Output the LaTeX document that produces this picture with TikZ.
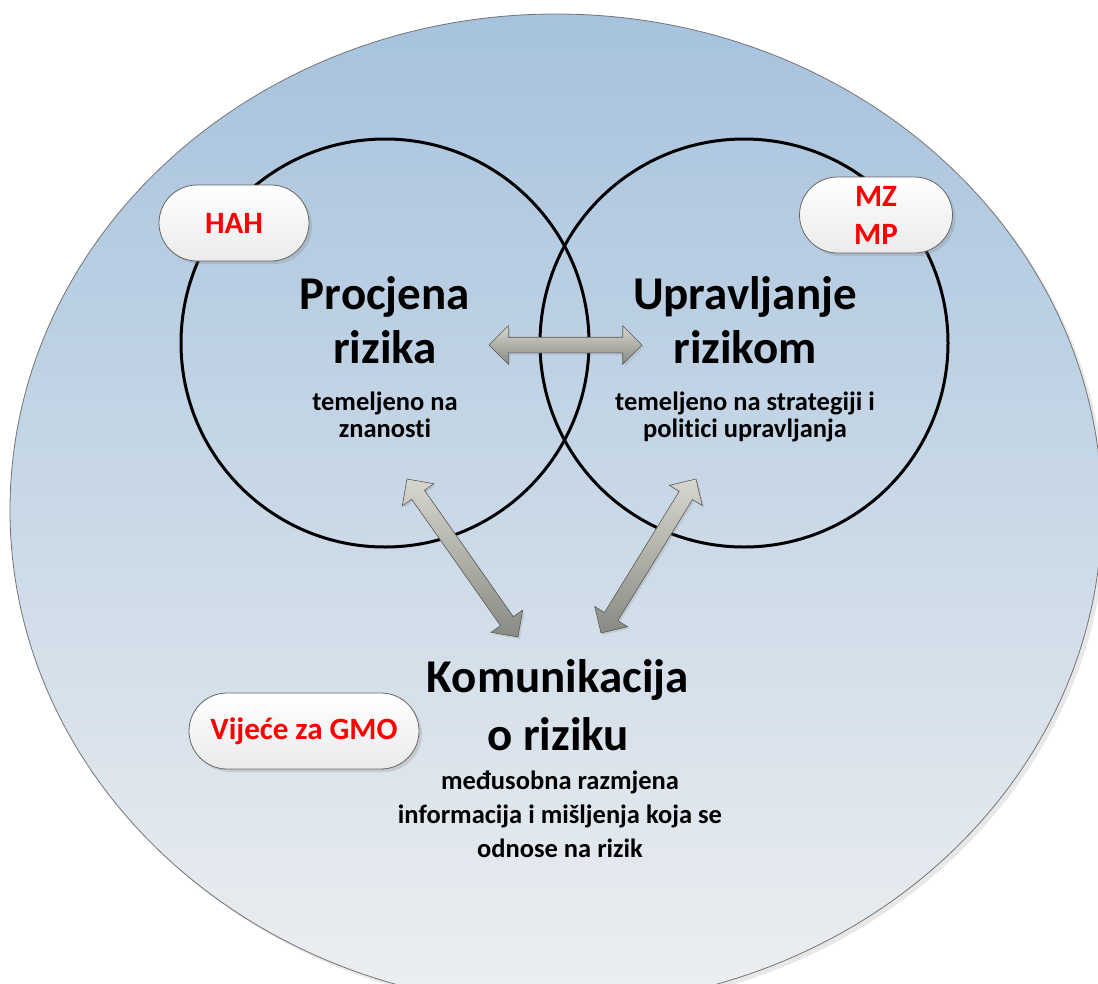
\documentclass[tikz,border=0pt]{standalone}
\usepackage{fontspec}
\setmainfont{Carlito}[Ligatures={NoCommon,NoRequired,NoContextual}]
\usetikzlibrary{shapes.misc,shapes.arrows,shadows,calc}
\definecolor{outtop}{HTML}{A6C2DD}
\definecolor{outbot}{HTML}{EDEFF1}
\definecolor{arrlight}{HTML}{D6D6CE}
\definecolor{arrdark}{HTML}{8A8A84}
\definecolor{pillred}{HTML}{FF0000}
\newcommand\dblarrow[3]{%
  \path let \p1=(#2), \p2=(#3),
    \n1={atan2(\y2-\y1,\x2-\x1)}, \n2={veclen(\x2-\x1,\y2-\y1)} in
    node[arrowshape, minimum height=\n2, rotate=\n1] (#1) at ($(#2)!0.5!(#3)$) {};}
\begin{document}
\begin{tikzpicture}[x=1pt,y=-1pt,
  ring/.style={circle, draw=black, line width=3pt, minimum size=408pt, inner sep=0pt},
  pill/.style={rounded rectangle, draw=black!60, line width=0.8pt,
    top color=white, bottom color=black!8,
    drop shadow={shadow xshift=3pt, shadow yshift=-3pt, opacity=0.25},
    text=pillred, font=\bfseries\fontsize{31}{38}\selectfont, align=center,
    inner sep=0pt, minimum height=76pt},
  titletext/.style={font=\bfseries\fontsize{47}{54}\selectfont, align=center, inner sep=0pt},
  subtext/.style={font=\bfseries\fontsize{26.5}{27}\selectfont, align=center, inner sep=0pt},
  arrowshape/.style={double arrow, draw=black!65, line width=0.6pt,
    top color=arrlight, bottom color=arrdark,
    double arrow head extend=11.5pt, double arrow head indent=0pt,
    inner xsep=0pt, inner ysep=7.5pt, minimum width=0pt,
    drop shadow={shadow xshift=2pt, shadow yshift=-2pt, opacity=0.2}}
]
\useasboundingbox (0,0) rectangle (1098,983);
% outer ellipse
\path[draw=black!55, line width=0.8pt, top color=outtop, bottom color=outbot,
  drop shadow={shadow xshift=4pt, shadow yshift=-4pt, opacity=0.18}]
  (556,510) ellipse [x radius=546pt, y radius=496pt];
% circles
\node[ring] (pr) at (385,343) {};
\node[ring] (up) at (744,343) {};
% pills
\node[pill, minimum width=150pt] (hah) at (234,223) {HAH};
\node[pill, minimum width=153pt] (mz) at (876,215) {MZ\\MP};
\node[pill, minimum width=230pt] (vij) at (304,731) {Vijeće za GMO};
% texts (base anchor = baseline of the last line)
\node[titletext, anchor=base] (prt) at (385,363) {Procjena\\rizika};
\node[subtext, anchor=base] (prs) at (385,437) {temeljeno na\\znanosti};
\node[titletext, anchor=base] (upt) at (745,363) {Upravljanje\\rizikom};
\node[subtext, anchor=base] (ups) at (745,437) {temeljeno na strategiji i\\politici upravljanja};
\node[titletext, font=\bfseries\fontsize{47}{58}\selectfont, anchor=base] (kot) at (558,750) {Komunikacija\\o riziku};
\node[subtext, font=\bfseries\fontsize{26.5}{34}\selectfont, anchor=base] (kos) at (560,857) {međusobna razmjena\\informacija i mišljenja koja se\\odnose na rizik};
% arrows
\coordinate (h1) at (489,345); \coordinate (h2) at (642,345);
\coordinate (l1) at (407,479); \coordinate (l2) at (518,637);
\coordinate (r1) at (696,479); \coordinate (r2) at (601,633);
\dblarrow{ah}{h1}{h2}
\dblarrow{al}{l2}{l1}
\dblarrow{ar}{r2}{r1}
\end{tikzpicture}
\end{document}
